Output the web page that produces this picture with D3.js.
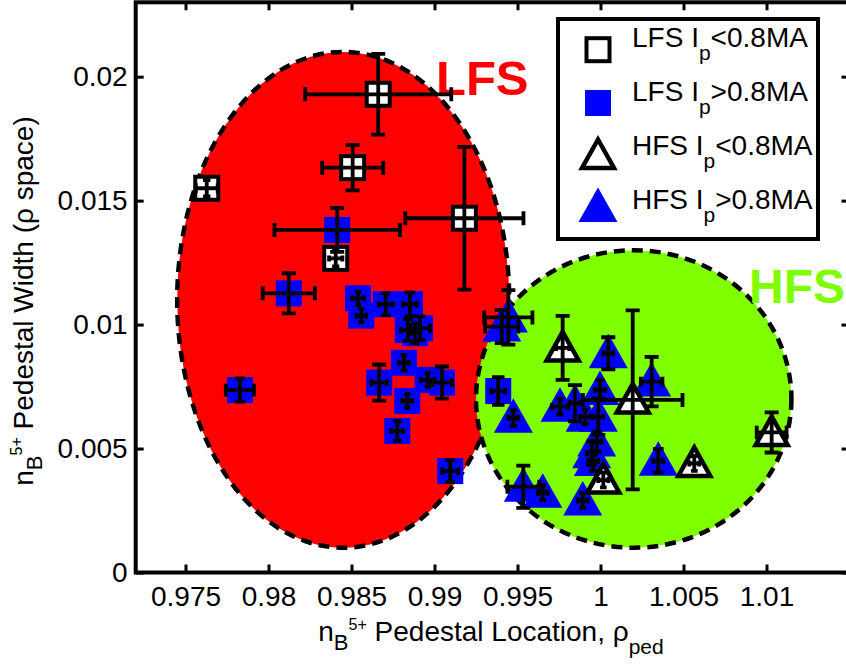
<!DOCTYPE html>
<html><head><meta charset="utf-8">
<script src="https://cdn.jsdelivr.net/npm/d3@7"></script>
<style>
body{margin:0;background:#fff;}
svg{display:block;font-family:"Liberation Sans",Arial,Helvetica,sans-serif;}
</style>
</head><body>
<svg id="c" width="846" height="667"></svg>
<script>
// ---- data: [x (rho_ped), y (width), xErr, yErr] ----
const lfsLow = [
  [0.98661, 0.01929, 0.00440, 0.00163],
  [0.98507, 0.01633, 0.00184, 0.00092],
  [0.97628, 0.01550, 0.00066, 0.00033],
  [0.99180, 0.01429, 0.00356, 0.00288],
  [0.98405, 0.01267, 0.00040, 0.00032]
];
const lfsHigh = [
  [0.98414, 0.01382, 0.00378, 0.00089],
  [0.98122, 0.01126, 0.00157, 0.00081],
  [0.97828, 0.00736, 0.00085, 0.00047],
  [0.98539, 0.01106, 0.00036, 0.00027],
  [0.98559, 0.01036, 0.00030, 0.00027],
  [0.98706, 0.01082, 0.00042, 0.00044],
  [0.98852, 0.01082, 0.00042, 0.00048],
  [0.98839, 0.00978, 0.00042, 0.00044],
  [0.98913, 0.00985, 0.00060, 0.00048],
  [0.98883, 0.00965, 0.00030, 0.00040],
  [0.98816, 0.00846, 0.00030, 0.00032],
  [0.98667, 0.00766, 0.00048, 0.00073],
  [0.98959, 0.00777, 0.00042, 0.00028],
  [0.99045, 0.00766, 0.00060, 0.00065],
  [0.98836, 0.00692, 0.00030, 0.00028],
  [0.98776, 0.00571, 0.00036, 0.00040],
  [0.99095, 0.00409, 0.00048, 0.00044],
  [0.99384, 0.00732, 0.00042, 0.00056]
];
const hfsLow = [
  [0.99772, 0.00906, 0.00040, 0.00129],
  [1.00194, 0.00696, 0.00300, 0.00361],
  [1.00017, 0.00373, 0.00030, 0.00030],
  [1.00565, 0.00440, 0.00030, 0.00030],
  [1.01031, 0.00565, 0.00090, 0.00081]
];
const hfsHigh = [
  [0.99445, 0.01029, 0.00145, 0.00110],
  [0.99405, 0.00992, 0.00100, 0.00067],
  [1.00047, 0.00884, 0.00030, 0.00065],
  [1.00308, 0.00770, 0.00065, 0.00100],
  [0.99756, 0.00669, 0.00048, 0.00032],
  [0.99475, 0.00624, 0.00030, 0.00032],
  [0.99846, 0.00683, 0.00030, 0.00073],
  [0.99997, 0.00736, 0.00030, 0.00040],
  [0.99987, 0.00628, 0.00030, 0.00073],
  [0.99907, 0.00628, 0.00030, 0.00030],
  [0.99977, 0.00528, 0.00030, 0.00040],
  [0.99947, 0.00481, 0.00030, 0.00048],
  [0.99957, 0.00450, 0.00030, 0.00040],
  [1.00348, 0.00451, 0.00030, 0.00048],
  [0.99535, 0.00346, 0.00096, 0.00085],
  [0.99652, 0.00322, 0.00030, 0.00030],
  [0.99893, 0.00290, 0.00030, 0.00030]
];
// regions: [name, cx, cy, rx, ry]
const regions = [
  ["LFS", 0.9845, 0.0110, 0.0100, 0.0100],
  ["HFS", 1.0020, 0.0070, 0.0095, 0.0060]
];
const legendNames = ["LFS", "LFS", "HFS", "HFS"];
const legendRel = ["<0.8MA", ">0.8MA", "<0.8MA", ">0.8MA"];
const xTicks = [0.975, 0.98, 0.985, 0.99, 0.995, 1, 1.005, 1.01];
const yTicks = [0, 0.005, 0.01, 0.015, 0.02];

// ---- drawing ----
const svg = d3.select("#c");
const x = d3.scaleLinear().domain([0.972, 1.015]).range([135.7, 849.5]);
const y = d3.scaleLinear().domain([0, 0.023]).range([572.5, 2.3]);
const RED = "#ff0000", GREEN = "#80ff00", BLUE = "#0000ff";

// regions
const regColor = {LFS: RED, HFS: GREEN};
svg.selectAll("ellipse.reg").data(regions).join("ellipse")
  .attr("class", "reg")
  .attr("cx", d => x(d[1])).attr("cy", d => y(d[2]))
  .attr("rx", d => x(d[1] + d[3]) - x(d[1]))
  .attr("ry", d => y(d[2]) - y(d[2] + d[4]))
  .attr("fill", d => regColor[d[0]])
  .attr("stroke", "#000").attr("stroke-width", 4.5)
  .attr("stroke-dasharray", "11,7");

// region labels
svg.append("text").attr("x", 436).attr("y", 95).text("LFS")
  .attr("font-size", 49).attr("font-weight", "bold").attr("fill", RED);
svg.append("text").attr("x", 749).attr("y", 303).text("HFS")
  .attr("font-size", 48).attr("font-weight", "bold").attr("fill", GREEN);

// marker shapes
const TRI = "M0,-19.5L19.5,15L-19.5,15Z";
const TRI_OPEN = "M0,-16L16,12.5L-16,12.5Z";
function drawSquareFilled(g, pts) {
  g.selectAll(null).data(pts).join("rect")
    .attr("x", d => x(d[0]) - 13).attr("y", d => y(d[1]) - 13)
    .attr("width", 26).attr("height", 26).attr("fill", BLUE);
}
function drawSquareOpen(g, pts) {
  g.selectAll(null).data(pts).join("rect")
    .attr("x", d => x(d[0]) - 11.5).attr("y", d => y(d[1]) - 11.5)
    .attr("width", 23).attr("height", 23).attr("fill", "#fff")
    .attr("stroke", "#000").attr("stroke-width", 4);
}
function drawTriFilled(g, pts) {
  g.selectAll(null).data(pts).join("path")
    .attr("d", TRI).attr("transform", d => `translate(${x(d[0])},${y(d[1])})`)
    .attr("fill", BLUE);
}
function drawTriOpen(g, pts) {
  g.selectAll(null).data(pts).join("path")
    .attr("d", TRI_OPEN).attr("transform", d => `translate(${x(d[0])},${y(d[1])})`)
    .attr("fill", "#fff").attr("stroke", "#000").attr("stroke-width", 4.5)
    .attr("stroke-linejoin", "miter");
}
const gm = svg.append("g");
drawSquareFilled(gm, lfsHigh);
drawSquareOpen(gm, lfsLow);
drawTriFilled(gm, hfsHigh);
drawTriOpen(gm, hfsLow);

// error bars
const ge = svg.append("g").attr("stroke", "#000").attr("stroke-width", 3.8).attr("fill", "none");
function errorBars(pts) {
  pts.forEach(d => {
    const cx = x(d[0]), cy = y(d[1]);
    const x0 = x(d[0] - d[2]), x1 = x(d[0] + d[2]);
    const y0 = y(d[1] - d[3]), y1 = y(d[1] + d[3]);
    const capH = Math.min(7, Math.max(3, (x1 - x0) / 2 * 0.45));
    const capV = Math.min(7, Math.max(3, (y0 - y1) / 2 * 0.45));
    const p = d3.path();
    p.moveTo(x0, cy); p.lineTo(x1, cy);
    p.moveTo(x0, cy - capH); p.lineTo(x0, cy + capH);
    p.moveTo(x1, cy - capH); p.lineTo(x1, cy + capH);
    p.moveTo(cx, y0); p.lineTo(cx, y1);
    p.moveTo(cx - capV, y0); p.lineTo(cx + capV, y0);
    p.moveTo(cx - capV, y1); p.lineTo(cx + capV, y1);
    ge.append("path").attr("d", p.toString());
  });
}
errorBars(lfsHigh); errorBars(lfsLow); errorBars(hfsHigh); errorBars(hfsLow);

// axes
const fmt = d3.format("~g");
const axStyle = g => {
  g.select(".domain").remove();
  g.selectAll(".tick line").attr("stroke", "#000").attr("stroke-width", 3);
  g.selectAll(".tick text").attr("fill", "#000").attr("font-size", 28)
    .attr("font-family", "'Liberation Sans',Arial,sans-serif");
};
svg.append("g").attr("transform", `translate(0,${y(0)})`)
  .call(d3.axisBottom(x).tickValues(xTicks).tickFormat(fmt).tickSize(-8).tickPadding(14))
  .call(axStyle);
svg.append("g").attr("transform", `translate(0,${y(0.023)})`)
  .call(d3.axisTop(x).tickValues(xTicks).tickFormat("").tickSize(-8))
  .call(axStyle);
svg.append("g").attr("transform", `translate(${x(0.972)},0)`)
  .call(d3.axisLeft(y).tickValues(yTicks).tickFormat(fmt).tickSize(-8).tickPadding(8))
  .call(axStyle);
svg.append("g").attr("transform", `translate(${x(1.015)},0)`)
  .call(d3.axisRight(y).tickValues(yTicks).tickFormat("").tickSize(-8))
  .call(axStyle);
svg.append("rect").attr("x", x(0.972)).attr("y", y(0.023))
  .attr("width", x(1.015) - x(0.972)).attr("height", y(0) - y(0.023))
  .attr("fill", "none").attr("stroke", "#000").attr("stroke-width", 4);

// axis titles
const xt = svg.append("text").attr("x", 491).attr("y", 641)
  .attr("text-anchor", "middle").attr("font-size", 28);
xt.append("tspan").text("n");
xt.append("tspan").attr("dy", 9).attr("font-size", 22).text("B");
xt.append("tspan").attr("dy", -20).attr("font-size", 16).text("5+");
xt.append("tspan").attr("dy", 11).text(" Pedestal Location, \u03c1");
xt.append("tspan").attr("dy", 13).attr("font-size", 21).text("ped");

const yt = svg.append("text").attr("transform", "translate(33,301) rotate(-90)")
  .attr("text-anchor", "middle").attr("font-size", 28);
yt.append("tspan").text("n");
yt.append("tspan").attr("dy", 9).attr("font-size", 22).text("B");
yt.append("tspan").attr("dy", -20).attr("font-size", 16).text("5+");
yt.append("tspan").attr("dy", 11).text(" Pedestal Width (\u03c1 space)");

// legend
const lg = svg.append("g");
lg.append("rect").attr("x", 558).attr("y", 19).attr("width", 260).attr("height", 220)
  .attr("fill", "#fff").attr("stroke", "#000").attr("stroke-width", 4);
const legBase = [47, 101, 155, 208.5];
legendNames.forEach((nm, i) => {
  const by = legBase[i];
  const t = lg.append("text").attr("x", 632).attr("y", by).attr("font-size", 28);
  t.append("tspan").text(nm + " I");
  t.append("tspan").attr("dy", 13).attr("font-size", 21).text("p");
  t.append("tspan").attr("dy", -13).text(legendRel[i]);
});
drawSquareOpen(lg, [[x.invert(598), y.invert(49.7)]]);
drawSquareFilled(lg, [[x.invert(598), y.invert(103)]]);
drawTriOpen(lg, [[x.invert(598), y.invert(155.5)]]);
drawTriFilled(lg, [[x.invert(598), y.invert(207)]]);
</script>
</body></html>
